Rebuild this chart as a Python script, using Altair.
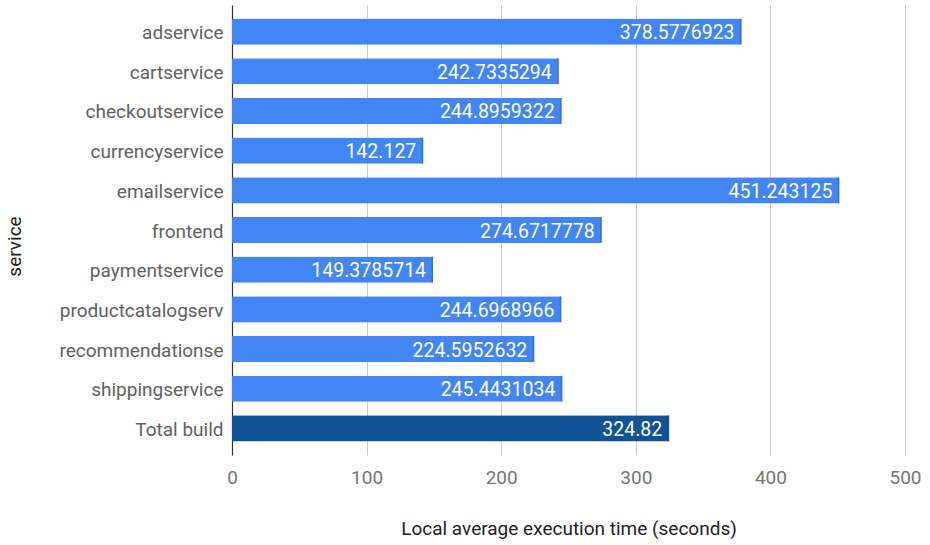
import altair as alt
import pandas as pd

services = [
    "adservice", "cartservice", "checkoutservice", "currencyservice",
    "emailservice", "frontend", "paymentservice", "productcatalogserv",
    "recommendationse", "shippingservice", "Total build",
]
times = [
    378.5776923, 242.7335294, 244.8959322, 142.127,
    451.243125, 274.6717778, 149.3785714, 244.6968966,
    224.5952632, 245.4431034, 324.82,
]
labels = [
    "378.5776923", "242.7335294", "244.8959322", "142.127",
    "451.243125", "274.6717778", "149.3785714", "244.6968966",
    "224.5952632", "245.4431034", "324.82",
]
kinds = ["service"] * 10 + ["total"]

df = pd.DataFrame({"service": services, "time": times, "label": labels, "kind": kinds})

FONT = "Roboto"

y_enc = alt.Y(
    "service:N",
    sort=services,
    scale=alt.Scale(paddingInner=0.34, paddingOuter=0.34),
    axis=alt.Axis(
        title="service",
        titleFont=FONT, titleFontSize=19, titleFontWeight="normal", titleColor="#222222",
        titleAngle=-90, titleX=-218, titleY=241, titleAlign="center", titleBaseline="middle",
        labelFont=FONT, labelFontSize=19, labelColor="#616161", labelPadding=9,
        labelOffset=1.5,
        ticks=False, domain=True, domainColor="#333333", domainWidth=1.2,
        grid=False,
    ),
)

x_scale = alt.Scale(domain=[0, 500], nice=False)
x_enc = alt.X(
    "time:Q",
    scale=x_scale,
    axis=alt.Axis(
        title="Local average execution time (seconds)",
        titleFont=FONT, titleFontSize=19, titleFontWeight="normal", titleColor="#222222",
        titleY=73, titleBaseline="middle",
        labelFont=FONT, labelFontSize=19, labelColor="#757575", labelPadding=13,
        labelFlush=False,
        values=[0, 100, 200, 300, 400, 500],
        ticks=False, domain=False,
        grid=True, gridColor="#cccccc", gridWidth=1,
    ),
)

color_enc = alt.Color(
    "kind:N",
    scale=alt.Scale(domain=["service", "total"], range=["#4285f4", "#0f5396"]),
    legend=None,
)

bars = alt.Chart(df).mark_bar(cornerRadius=1).encode(
    x=x_enc, y=y_enc, color=color_enc,
)

edges = alt.Chart(df).mark_tick(thickness=1.5, size=26, xOffset=-0.75).encode(
    x=alt.X("time:Q", scale=x_scale),
    y=alt.Y("service:N", sort=services),
    color=alt.Color(
        "kind:N",
        scale=alt.Scale(domain=["service", "total"], range=["#2f63c4", "#0f5396"]),
        legend=None,
    ),
)

texts = alt.Chart(df).mark_text(
    align="right", baseline="middle", dx=-7, dy=1.5,
    font=FONT, fontSize=19.5, color="white",
).encode(
    x=alt.X("time:Q", scale=x_scale),
    y=alt.Y("service:N", sort=services),
    text="label:N",
)

chart = (
    alt.layer(bars, edges, texts)
    .resolve_scale(color="independent")
    .properties(
        width=673, height=450,
        autosize=alt.AutoSizeParams(type="none"),
        padding={"left": 232, "top": 5, "right": 25, "bottom": 90},
        background="white",
    )
    .configure_view(stroke=None)
)

chart.save("out.html", embed_options={"renderer": "svg", "actions": False})
